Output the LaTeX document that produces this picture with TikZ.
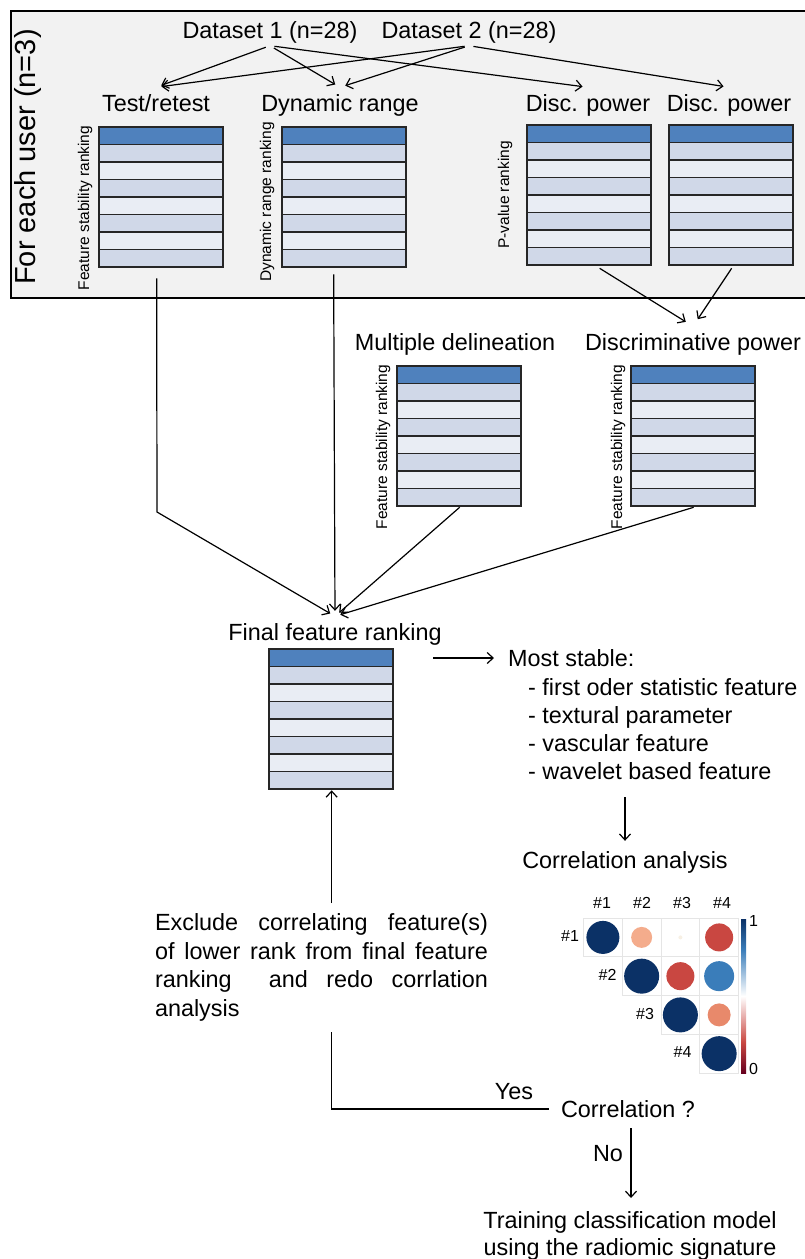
\documentclass[tikz,border=0pt]{standalone}
\usepackage{fontspec}
\setmainfont{Liberation Sans}
\usetikzlibrary{arrows.meta}

\definecolor{rowtop}{HTML}{4F81BD}
\definecolor{rowdark}{HTML}{D0D8E8}
\definecolor{rowlight}{HTML}{E9EDF4}
\definecolor{rowline}{HTML}{262626}
\definecolor{boxfill}{HTML}{F2F2F2}
\definecolor{cdark}{HTML}{0B3166}
\definecolor{cmid}{HTML}{3A7DBA}
\definecolor{cred}{HTML}{C94741}
\definecolor{csalm}{HTML}{F4AC8C}
\definecolor{csalmb}{HTML}{E8896B}
\definecolor{cpale}{HTML}{F7F0E4}
\definecolor{cbot}{HTML}{67001F}

\pgfdeclareverticalshading{rdbu}{100bp}{color(0bp)=(cbot); color(25bp)=(cbot); color(35bp)=(cred);
  color(50bp)=(white); color(65bp)=(cmid); color(75bp)=(cdark); color(100bp)=(cdark)}

% ranking table: name, left, top
\newcommand{\ranktab}[3]{%
  \filldraw[rowstyle, fill=rowtop] (#2,#3) rectangle ++(124,17.5);
  \foreach \r in {1,...,7}{%
    \ifodd\r \def\rowfill{rowdark}\else\def\rowfill{rowlight}\fi
    \filldraw[rowstyle, fill=\rowfill] (#2,#3+17.5*\r) rectangle ++(124,17.5);
  }
  \node[tabframe, anchor=north west] (#1) at (#2,#3) {};
}
% one justified line of the loop-back text
\newcommand{\jline}[1]{\leavevmode\hbox to 333pt{#1}}

\begin{document}
\begin{tikzpicture}[x=1pt, y=-1pt,
    txt/.style={font=\fontsize{23.4}{28}\selectfont, text height=22pt, text depth=5pt, inner sep=2pt},
    side/.style={font=\fontsize{15.5}{18}\selectfont, rotate=90, inner sep=1pt},
    hash/.style={font=\fontsize{16}{19}\selectfont, inner sep=1pt},
    conn/.style={line width=1.2pt},
    arr/.style={conn, -{Straight Barb[length=6pt,width=11pt]}},
    rowstyle/.style={draw=rowline, line width=1.3pt},
    tabframe/.style={draw=rowline, line width=1.3pt, minimum width=124pt, minimum height=140pt, inner sep=0pt},
    cellgrid/.style={draw=gray!20, line width=0.6pt}]

  \useasboundingbox (0,0) rectangle (805,1259);

  % per-user box
  \fill[boxfill] (11,11) rectangle (805,298);
  \draw[line width=2.5pt] (805,11) -- (11,11) -- (11,298) -- (805,298);
  \node[font=\fontsize{29}{34}\selectfont, rotate=90, inner sep=0pt] (user) at (28,157) {For each user (n=3)};

  \node[txt] (d1) at (270,30) {Dataset 1 (n=28)};
  \node[txt] (d2) at (469,30) {Dataset 2 (n=28)};

  \node[txt] (tr) at (156,103) {Test/retest};
  \node[txt] (dr) at (340,103) {Dynamic range};
  \node[txt] (dp1) at (588,103) {Disc. power};
  \node[txt] (dp2) at (729,103) {Disc. power};

  \ranktab{t1}{99}{127}
  \ranktab{t2}{282}{127}
  \ranktab{t3}{527}{125}
  \ranktab{t4}{669}{125}

  \node[side] (s1) at (85,208) {Feature stability ranking};
  \node[side] (s2) at (267,202) {Dynamic range ranking};
  \node[side] (s3) at (505,195) {P-value ranking};

  \foreach \to in {tr, dr, dp1}
    \draw[arr, shorten <=4.5pt, shorten >=5.5pt] (d1.south) -- (\to.north);
  \foreach \to in {tr, dr, dp2}
    \draw[arr, shorten <=4.5pt, shorten >=5.5pt] (d2.south) -- (\to.north);

  % second level
  \node[txt] (md) at (455,342) {Multiple delineation};
  \node[txt] (dpw) at (693,342) {Discriminative power};

  \ranktab{t5}{397}{366}
  \ranktab{t6}{631}{366}

  \node[side] (s5) at (383,447) {Feature stability ranking};
  \node[side] (s6) at (618,447) {Feature stability ranking};

  \draw[arr, shorten >=8.5pt] ([xshift=10pt,yshift=-2pt]t3.south) -- (dpw.north);
  \draw[arr, shorten >=8.5pt] ([yshift=-2pt]t4.south) -- (dpw.north);

  % final ranking
  \node[txt] (ffr) at (335,632) {Final feature ranking};
  \ranktab{t7}{269}{649}

  \coordinate (bend1) at (157,512);
  \draw[arr, shorten >=5.5pt] ([xshift=-5pt,yshift=-10pt]t1.south) -- (bend1) -- (ffr.north);
  \draw[arr, shorten >=5.5pt] ([xshift=-11pt,yshift=-6pt]t2.south) -- (ffr.north);
  \draw[arr, shorten >=5.5pt] (t5.south) -- (ffr.north);
  \draw[arr, shorten >=5.5pt] (t6.south) -- (ffr.north);

  % most stable features
  \node[txt, anchor=west] (ms) at (506,658) {Most stable:};
  \foreach \item [count=\k from 0] in {first oder statistic feature, textural parameter, vascular feature, wavelet based feature}
    \node[txt, anchor=west] (it\k) at (526,687+28*\k) {- \item};
  \draw[arr, shorten <=39pt, shorten >=12pt] (t7.east |- ms.west) -- (ms.west);

  \node[txt] (ca) at (625,860) {Correlation analysis};
  \draw[arr, shorten >=3.5pt] ([yshift=47pt]ca.north) -- (ca.north);

  % correlation matrix
  \foreach \i in {1,...,4}
    \foreach \j in {\i,...,4}
      \draw[cellgrid] (583.5+38.75*\j-38.75,918+38.75*\i-38.75) rectangle ++(38.75,38.75);
  \foreach \i/\j/\rad/\col in {1/1/16.5/cdark, 1/2/10.5/csalm, 1/3/2/cpale, 1/4/14/cred,
                               2/2/17.5/cdark, 2/3/14/cred, 2/4/15/cmid,
                               3/3/17.5/cdark, 3/4/11.5/csalmb, 4/4/17.5/cdark}
    \fill[\col] (602.9+38.75*\j-38.75,937.4+38.75*\i-38.75) circle[radius=\rad pt];
  \foreach \j in {1,...,4} {
    \node[hash] (col\j) at (602+40*\j-40,903) {\#\j};
    \node[hash] (row\j) at (570+37.5*\j-37.5,936+38.75*\j-38.75) {\#\j};
  }
  \shade[shading=rdbu] (741,919) rectangle (746,1073);
  \node[hash, anchor=west] (cb1) at (748,921) {1};
  \node[hash, anchor=west] (cb0) at (748,1069) {0};

  % loop back
  \node[anchor=north west, font=\fontsize{23.4}{28.5}\selectfont, text width=333pt, align=left,
        inner sep=0pt, outer sep=11pt] (excl) at (144,903)
    {\jline{Exclude\hfill correlating\hfill feature(s)}\\
     \jline{of\hfill lower\hfill rank\hfill from\hfill final\hfill feature}\\
     \jline{ranking\hfill\hfill and\hfill redo\hfill corrlation}\\
     analysis};
  \draw[arr] (t7.south |- excl.north) -- (t7.south);

  \node[txt] (cq) at (628,1109) {Correlation ?};
  \draw[conn] (t7.south |- excl.south) |- ([xshift=-10pt]cq.west);
  \node[txt] (yes) at (514,1091) {Yes};

  \node[font=\fontsize{23.4}{27}\selectfont, align=center, inner sep=2pt, anchor=north] (train) at (630,1209.5)
    {Training classification model\\using the radiomic signature};
  \draw[arr, shorten <=3.5pt, shorten >=11.5pt] ([xshift=3pt]cq.south) -- ([xshift=3pt]cq.south |- train.north);
  \node[txt] (no) at (608,1153) {No};

\end{tikzpicture}
\end{document}
